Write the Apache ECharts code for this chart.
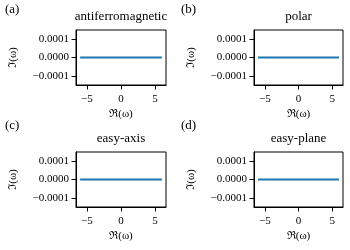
<!DOCTYPE html>
<html><head><meta charset="utf-8">
<script src="https://cdn.jsdelivr.net/npm/echarts@6/dist/echarts.min.js"></script>
<style>html,body{margin:0;padding:0;background:#fff}#c{width:350px;height:250px}</style>
</head><body><div id="c"></div>
<script>
// Data
const panelLabels = ['(a)', '(b)', '(c)', '(d)'];
const panelTitles = ['antiferromagnetic', 'polar', 'easy-axis', 'easy-plane'];
const reOmega = [-6, -4, -2, 0, 2, 4, 6];
const imOmegaA = [0, 0, 0, 0, 0, 0, 0];
const imOmegaB = [0, 0, 0, 0, 0, 0, 0];
const imOmegaC = [0, 0, 0, 0, 0, 0, 0];
const imOmegaD = [0, 0, 0, 0, 0, 0, 0];
const xTicks = [-5, 0, 5];
const yTicks = [-0.0001, 0, 0.0001];
const xLabel = 'ℜ(ω)';
const yLabel = 'ℑ(ω)';

const seriesData = [imOmegaA, imOmegaB, imOmegaC, imOmegaD];
const font = 'Liberation Serif';
const grids = [
  {left: 76, top: 30, width: 90, height: 55},
  {left: 254, top: 30, width: 89, height: 55},
  {left: 76, top: 152, width: 90, height: 55},
  {left: 254, top: 152, width: 89, height: 55}
];
const labelPos = [[5, 3], [181, 3], [5, 119], [181, 119]];

function fmtY(v) {
  if (Math.abs(v) < 1e-12) return '0.0000';
  const s = v.toFixed(4);
  return s.replace('-', '−');
}
function fmtX(v) { return String(v).replace('-', '−'); }

const option = {
  animation: false,
  grid: grids.map(g => Object.assign({show: true, borderColor: '#000', borderWidth: 1, backgroundColor: 'transparent'}, g)),
  xAxis: grids.map((g, i) => ({
    type: 'value', gridIndex: i, min: -6.6, max: 6.6,
    splitLine: {show: false},
    axisLine: {show: true, onZero: false, lineStyle: {color: '#000', width: 1}},
    axisTick: {show: true, length: 4.5, lineStyle: {color: '#000'}, customValues: xTicks},
    axisLabel: {color: '#000', fontFamily: font, fontSize: 11, margin: 9, customValues: xTicks, formatter: fmtX},
    name: xLabel, nameLocation: 'middle', nameGap: 24,
    nameTextStyle: {color: '#000', fontFamily: font, fontSize: 11}
  })),
  yAxis: grids.map((g, i) => ({
    type: 'value', gridIndex: i, min: -0.00015, max: 0.00015,
    splitLine: {show: false},
    axisLine: {show: true, onZero: false, lineStyle: {color: '#000', width: 1}},
    axisTick: {show: true, length: 4.5, lineStyle: {color: '#000'}, customValues: yTicks},
    axisLabel: {color: '#000', fontFamily: font, fontSize: 11, margin: 7, customValues: yTicks, formatter: fmtY},
    name: yLabel, nameLocation: 'middle', nameGap: 57, nameRotate: 90,
    nameTextStyle: {color: '#000', fontFamily: font, fontSize: 11}
  })),
  series: seriesData.map((d, i) => ({
    type: 'line', xAxisIndex: i, yAxisIndex: i, showSymbol: false, symbol: 'none',
    data: reOmega.map((x, j) => [x, d[j]]),
    lineStyle: {color: '#1f77b4', width: 2}
  })),
  graphic: grids.map((g, i) => ({
    type: 'text', x: g.left + g.width / 2, y: g.top - 7,
    style: {text: panelTitles[i], fill: '#000', font: '13px "' + font + '"', textAlign: 'center', textVerticalAlign: 'bottom'}
  })).concat(labelPos.map((p, i) => ({
    type: 'text', x: p[0], y: p[1],
    style: {text: panelLabels[i], fill: '#000', font: '13px "' + font + '"', textAlign: 'left', textVerticalAlign: 'top'}
  })))
};
const chart = echarts.init(document.getElementById('c'), null, {renderer: 'canvas'});
chart.setOption(option);
</script></body></html>
